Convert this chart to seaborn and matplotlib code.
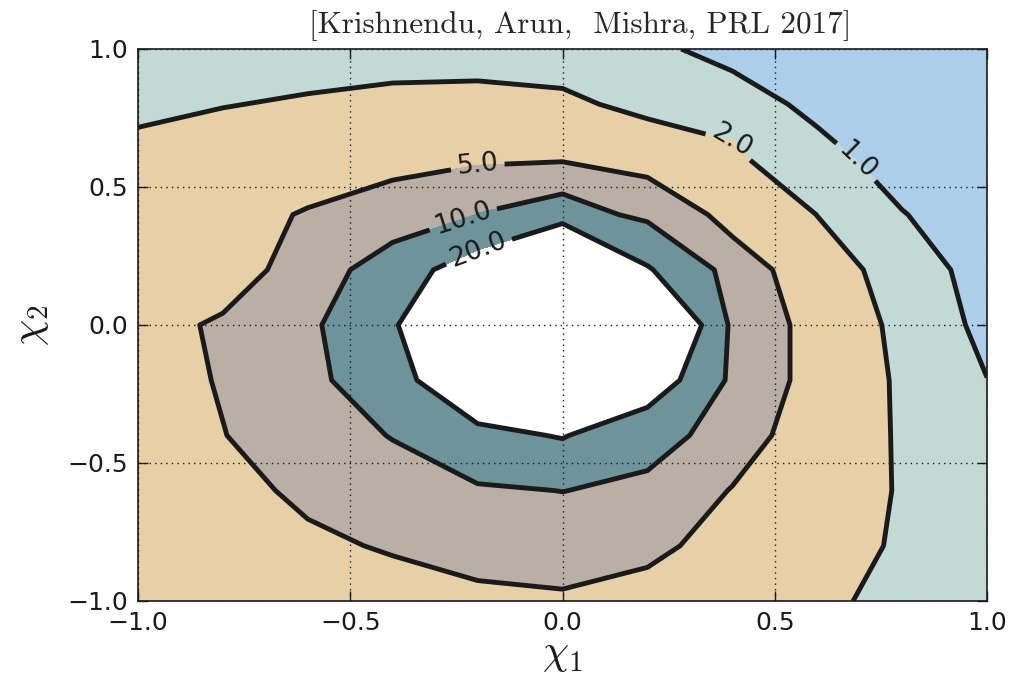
import numpy as np
import matplotlib
matplotlib.use("Agg")
import matplotlib.pyplot as plt
import seaborn as sns

# Grid of spin values
chi1 = [-1.0, -0.8, -0.6, -0.4, -0.2, 0.0, 0.2, 0.4, 0.6, 0.8, 1.0]
chi2 = [1.0, 0.8, 0.6, 0.4, 0.2, 0.0, -0.2, -0.4, -0.6, -0.8, -1.0]

# Ratio on the (chi1, chi2) grid; one row per chi2 value, top row is chi2 = 1.0
ratio = [
    [1.02, 1.02, 1.02, 1.02, 1.18, 1.05, 1.35, 0.47, 0.30, 0.20, 0.15],
    [1.61, 1.92, 2.23, 2.61, 2.60, 2.38, 1.50, 1.80, 0.58, 0.20, 0.12],
    [2.54, 3.13, 4.15, 4.97, 4.40, 4.64, 3.39, 2.10, 1.60, 0.27, 0.05],
    [3.86, 4.44, 5.12, 5.05, 10.14, 13.22, 8.36, 3.64, 1.98, 1.07, 0.05],
    [4.90, 4.89, 5.10, 14.90, 25.54, 54.91, 20.95, 7.06, 2.73, 1.39, 0.71],
    [4.92, 5.03, 8.23, 18.95, 35.07, 50.10, 40.56, 8.40, 3.40, 1.56, 0.81],
    [3.56, 5.23, 7.61, 16.13, 29.70, 35.05, 27.14, 8.42, 3.39, 1.75, 1.01],
    [3.03, 4.92, 6.60, 10.30, 17.38, 20.62, 12.65, 7.33, 2.32, 1.95, 1.20],
    [2.83, 4.25, 5.46, 6.83, 8.95, 10.11, 8.50, 4.79, 2.65, 1.91, 1.14],
    [2.70, 3.66, 4.57, 5.22, 5.51, 5.11, 5.54, 4.14, 2.75, 1.79, 1.02],
    [2.58, 3.05, 3.52, 4.00, 4.70, 4.97, 4.16, 3.28, 2.33, 1.55, 1.02],
]

line_levels = [1, 2, 5, 10, 20]
fill_levels = [0, 1, 2, 5, 10, 20]
fill_colors = ["#abcfe8", "#c1dad6", "#e8d0a6", "#b9afa4", "#6d939b"]
tick_values = [-1.0, -0.5, 0.0, 0.5, 1.0]
label_spots = [(0.705, 0.61), (0.399, 0.67), (-0.201, 0.591), (-0.237, 0.399), (-0.204, 0.30)]
title = "[Krishnendu, Arun,  Mishra, PRL 2017]"

sns.set_theme(style="white")
plt.rcParams["mathtext.fontset"] = "cm"
palette = sns.color_palette(fill_colors)

fig = plt.figure(figsize=(10.18, 6.75), dpi=100)
ax = fig.add_axes([138 / 1018, 1 - 601 / 675, 849 / 1018, 552 / 675])

Z = np.array(ratio)
ax.contourf(chi1, chi2, Z, levels=fill_levels, colors=palette)
cs = ax.contour(chi1, chi2, Z, levels=line_levels, colors="k", linewidths=3.5)
ax.clabel(cs, fmt="%.1f", fontsize=19, inline=True, inline_spacing=6, manual=label_spots)

ax.set_xlim(-1, 1)
ax.set_ylim(-1, 1)
ax.set_xticks(tick_values)
ax.set_yticks(tick_values)
ax.set_axisbelow(False)
ax.grid(True, color="k", linestyle=(0, (1, 3)), linewidth=1.0)
ax.tick_params(direction="in", length=7, width=1, color="k", labelsize=18, pad=7,
               top=True, right=True, bottom=True, left=True, labelcolor="k")
for s in ax.spines.values():
    s.set_color("0.1")
    s.set_linewidth(1.2)

ax.set_xlabel(r"$\chi_1$", fontsize=30, color="k")
ax.set_ylabel(r"$\chi_2$", fontsize=30, color="k")
ax.xaxis.set_label_coords(0.5, -0.057)
ax.yaxis.set_label_coords(-0.102, 0.5)

fig.text(580 / 1018, 1 - 26 / 675, title, fontfamily="cmr10",
         fontsize=22.4, ha="center", va="center")

fig.savefig("out.png", dpi=100)
